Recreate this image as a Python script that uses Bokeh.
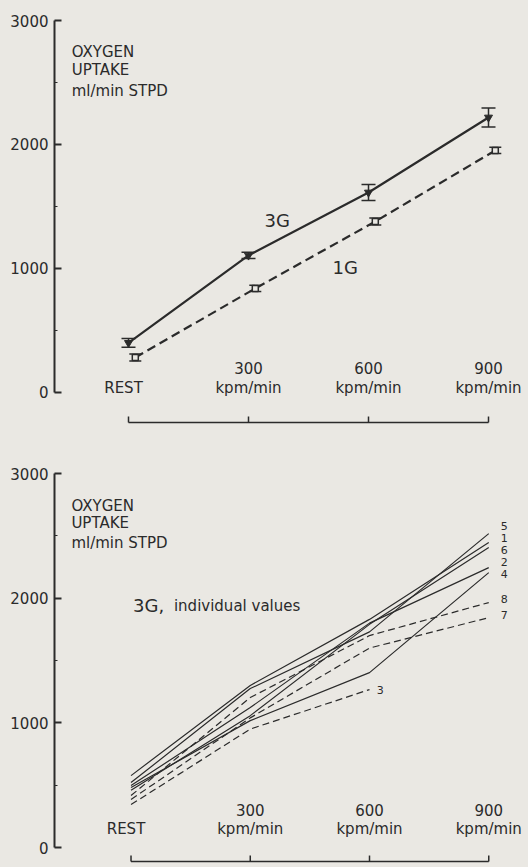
import numpy as np
from bokeh.plotting import figure
from bokeh.models import Range1d, FixedTicker, ColumnDataSource, Whisker, TeeHead
from bokeh.layouts import column
from bokeh.transform import dodge
from bokeh.core.properties import value
from bokeh.embed import file_html
from bokeh.resources import INLINE

# ---------------- data ----------------
workloads = [0, 300, 600, 900]
workload_numbers = ["", "300", "600", "900"]
workload_units = ["REST", "kpm/min", "kpm/min", "kpm/min"]
y_ticks = [0, 1000, 2000, 3000]
y_minor = [500, 1500, 2500]

mean_3g = [400, 1105, 1613, 2218]
err_3g = [35, 25, 65, 77]
mean_1g = [282, 839, 1379, 1952]
err_1g = [28, 25, 28, 25]

subjects = ["1", "2", "3", "4", "5", "6", "7", "8"]
subject_dashed = [False, False, True, False, False, False, True, True]
subj_1 = [577, 1300, 1830, 2446]
subj_2 = [497, 1123, 1800, 2245]
subj_3 = [345, 950, 1267, np.nan]
subj_4 = [481, 1018, 1403, 2205]
subj_5 = [521, 1275, 1730, 2518]
subj_6 = [460, 1058, 1790, 2406]
subj_7 = [385, 1040, 1600, 1844]
subj_8 = [417, 1203, 1700, 1965]
subject_values = [subj_1, subj_2, subj_3, subj_4, subj_5, subj_6, subj_7, subj_8]

# ---------------- style ----------------
BG = "#eae8e3"
INK = "#2b2b2b"
FONT = "DejaVu Sans"


def base_figure(height, xr, yr, left, top, bracket_y, tick_len):
    p = figure(width=528, height=height, x_range=xr, y_range=yr,
               output_backend="svg", toolbar_location=None, x_axis_location=None,
               min_border_left=left, min_border_right=0,
               min_border_top=top, min_border_bottom=0,
               styles={"background-color": BG})
    p.background_fill_color = BG
    p.border_fill_color = BG
    p.outline_line_color = None
    p.grid.grid_line_color = None
    # y axis
    ya = p.yaxis[0]
    ya.bounds = (0, 3000)
    ya.ticker = FixedTicker(ticks=y_ticks, minor_ticks=y_minor)
    ya.major_tick_in = 7
    ya.major_tick_out = 0
    ya.minor_tick_in = 3
    ya.minor_tick_out = 0
    ya.axis_line_width = 2
    ya.axis_line_color = INK
    ya.major_tick_line_color = INK
    ya.major_tick_line_width = 2
    ya.minor_tick_line_color = INK
    ya.major_label_standoff = 6
    ya.major_label_text_font = FONT
    ya.major_label_text_font_size = "15px"
    ya.major_label_text_color = INK
    # bracket under the workloads
    p.segment(x0=[workloads[0]], x1=[workloads[-1]], y0=[bracket_y], y1=[bracket_y],
              line_color=INK, line_width=1.5)
    p.segment(x0=workloads, x1=workloads, y0=[bracket_y] * len(workloads),
              y1=[bracket_y + tick_len] * len(workloads), line_color=INK, line_width=1.5)
    return p


def axis_texts(p, y_title, y_num, y_unit):
    lines = ["OXYGEN", "UPTAKE", "ml/min STPD"]
    p.text(x=[y_title[0]] * 3, y=y_title[1:], text=lines, text_font=value(FONT),
           text_font_size="15px", text_color=INK, text_align="left",
           text_baseline="middle")
    num_src = ColumnDataSource(dict(x=[w for w, n in zip(workloads, workload_numbers) if n],
                                    t=[n for n in workload_numbers if n]))
    p.text(x="x", y=y_num, text="t", source=num_src, text_font=value(FONT),
           text_font_size="15px", text_color=INK, text_align="center",
           text_baseline="middle")
    unit_src = ColumnDataSource(dict(x=workloads, t=workload_units, dx=[-5, 0, 0, 0]))
    p.text(x="x", y=y_unit, text="t", x_offset="dx", source=unit_src,
           text_font=value(FONT), text_font_size="15px", text_color=INK,
           text_align="center", text_baseline="middle")


# ---------------- top panel ----------------
p1 = base_figure(433, Range1d(-185, 1000), Range1d(-331, 3000), 54, 20, -242, 48)
axis_texts(p1, (-142, 2742, 2597, 2435), 200, 40)

src3 = ColumnDataSource(dict(x=workloads, y=mean_3g,
                             lo=[m - e for m, e in zip(mean_3g, err_3g)],
                             hi=[m + e for m, e in zip(mean_3g, err_3g)]))
src1 = ColumnDataSource(dict(x=workloads, y=mean_1g,
                             lo=[m - e for m, e in zip(mean_1g, err_1g)],
                             hi=[m + e for m, e in zip(mean_1g, err_1g)]))
dx1 = dodge("x", 17, range=p1.x_range)

p1.line(x="x", y="y", source=src3, line_color=INK, line_width=2.2)
p1.line(x=dx1, y="y", source=src1, line_color=INK, line_width=2.2, line_dash="9 5")
p1.add_layout(Whisker(base="x", lower="lo", upper="hi", source=src3,
                      line_color=INK, line_width=1.5,
                      upper_head=TeeHead(size=14, line_color=INK, line_width=1.5),
                      lower_head=TeeHead(size=14, line_color=INK, line_width=1.5)))
p1.add_layout(Whisker(base=dx1, lower="lo", upper="hi", source=src1,
                      line_color=INK, line_width=1.5,
                      upper_head=TeeHead(size=12, line_color=INK, line_width=1.5),
                      lower_head=TeeHead(size=12, line_color=INK, line_width=1.5)))
p1.scatter(x="x", y="y", source=src3, marker="inverted_triangle", size=8,
           fill_color=INK, line_color=INK)
p1.scatter(x=dx1, y="y", source=src1, marker="square", size=6,
           fill_color=BG, line_color=INK, line_width=1.5)
p1.text(x=[372], y=[1387], text=["3G"], text_font=value(FONT), text_font_size="18px",
        text_color=INK, text_align="center", text_baseline="middle")
p1.text(x=[542], y=[1008], text=["1G"], text_font=value(FONT), text_font_size="18px",
        text_color=INK, text_align="center", text_baseline="middle")

# ---------------- bottom panel ----------------
p2 = base_figure(434, Range1d(-192.5, 1000), Range1d(-160, 3000), 51, 40, -112, 48)
axis_texts(p2, (-150, 2743, 2607, 2446), 305, 152)

end_subjects, end_vals = [], []
for name, vals, dashed in zip(subjects, subject_values, subject_dashed):
    src = ColumnDataSource(dict(x=workloads, y=vals))
    p2.line(x="x", y="y", source=src, line_color=INK, line_width=1.2,
            line_dash="7 4" if dashed else "solid")
    if not np.isnan(vals[-1]):
        end_subjects.append(name)
        end_vals.append(vals[-1])

# spread the end labels so they do not overlap
order = sorted(range(len(end_vals)), key=lambda i: -end_vals[i])
pos = [end_vals[i] for i in order]
gap = 96
for _ in range(300):
    for k in range(len(pos) - 1):
        d = pos[k] - pos[k + 1]
        if d < gap:
            s = (gap - d) / 2
            pos[k] += s
            pos[k + 1] -= s
p2.text(x=[930] * len(pos), y=[v + 25 for v in pos], text=[end_subjects[i] for i in order],
        text_font=value(FONT), text_font_size="11px", text_color=INK,
        text_align="left", text_baseline="middle")

# label for the subject that stopped at 600
for name, vals in zip(subjects, subject_values):
    if np.isnan(vals[-1]):
        p2.text(x=[workloads[2] + 18], y=[vals[2]], text=[name], text_font=value(FONT),
                text_font_size="11px", text_color=INK, text_align="left",
                text_baseline="middle")

p2.text(x=[5], y=[1941], text=["3G,"], text_font=value(FONT), text_font_size="18px",
        text_color=INK, text_align="left", text_baseline="middle")
p2.text(x=[108], y=[1941], text=["individual values"], text_font=value(FONT),
        text_font_size="15px", text_color=INK, text_align="left", text_baseline="middle")

layout = column(p1, p2, spacing=0, styles={"background-color": BG})
open("out.html", "w").write(file_html(layout, INLINE))
